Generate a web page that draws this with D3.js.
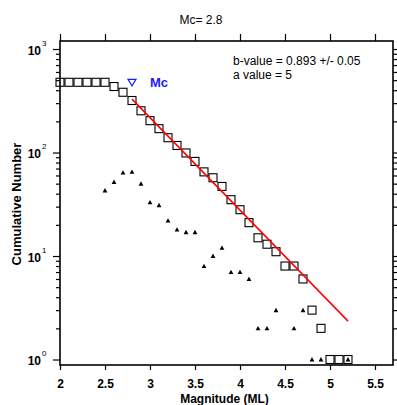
<!DOCTYPE html>
<html>
<head>
<meta charset="utf-8">
<script src="https://cdn.jsdelivr.net/npm/d3@7"></script>
<style>
  body { margin: 0; background: #fff; }
  svg { display: block; font-family: "Liberation Sans", Arial, sans-serif; }
</style>
</head>
<body>
<div id="chart"></div>
<script>
// magnitude bins (ML)
var magnitudes = [2.0, 2.1, 2.2, 2.3, 2.4, 2.5, 2.6, 2.7, 2.8, 2.9, 3.0, 3.1, 3.2, 3.3, 3.4,
                  3.5, 3.6, 3.7, 3.8, 3.9, 4.0, 4.1, 4.2, 4.3, 4.4, 4.5, 4.6, 4.7, 4.8, 4.9,
                  5.0, 5.1, 5.2];
// cumulative number of events (squares)
var cumulative = [477, 477, 477, 477, 477, 477, 434, 382, 318, 253, 203, 170, 139, 117, 99,
                  82, 65, 57, 47, 35, 28, 21, 15, 13, 11, 8, 8, 6, 3, 2,
                  1, 1, 1];
// non-cumulative number per bin (triangles), 0 = not plotted
var perBin = [0, 0, 0, 0, 0, 43, 52, 64, 65, 50, 33, 31, 22, 18, 17,
              17, 8, 10, 12, 7, 7, 6, 2, 2, 3, 0, 2, 3, 1, 1,
              0, 0, 1];
// fitted Gutenberg-Richter line, end points [magnitude, N]
var fitLine = [[2.8, 328], [5.2, 2.35]];
var mc = 2.8;
var mcLevel = 477;
var xTicks = [2, 2.5, 3, 3.5, 4, 4.5, 5, 5.5];
var yMajor = [1, 10, 100, 1000];
var yMinor = [2, 3, 4, 5, 6, 7, 8, 9, 20, 30, 40, 50, 60, 70, 80, 90, 200, 300, 400, 500, 600, 700, 800, 900];
var titleText = "Mc= 2.8";
var statLines = ["b-value = 0.893 +/- 0.05", "a value = 5"];

var W = 397, H = 405;
var margin = { top: 41, right: 4, bottom: 40, left: 60 };
var svg = d3.select('#chart').append('svg').attr('width', W).attr('height', H);

var x = d3.scaleLinear().domain([2, 5.7]).range([margin.left, W - margin.right]);
var y = d3.scaleLog().domain([0.885, 1195]).range([H - margin.bottom, margin.top]);
var x0 = x.range()[0], x1 = x.range()[1], y0 = y.range()[0], y1 = y.range()[1];

// ticks on all four sides, pointing outward
function styleAxis(g) {
    g.select('.domain').remove();
    g.selectAll('line').attr('stroke', '#000').attr('stroke-width', 1.2);
}
svg.append('g').attr('transform', 'translate(0,' + y0 + ')')
    .call(d3.axisBottom(x).tickValues(xTicks).tickSize(5).tickPadding(9).tickFormat(function (d) { return d; }))
    .call(styleAxis)
    .selectAll('text').attr('font-size', '12px').attr('font-weight', 'bold').attr('fill', '#000')
    .attr('font-family', '"Liberation Sans", Arial, sans-serif');
svg.append('g').attr('transform', 'translate(0,' + y1 + ')')
    .call(d3.axisTop(x).tickValues(xTicks).tickSize(7).tickFormat(''))
    .call(styleAxis);

svg.append('g').attr('transform', 'translate(' + x0 + ',0)')
    .call(d3.axisLeft(y).tickValues(yMajor).tickSize(7).tickFormat(''))
    .call(styleAxis);
svg.append('g').attr('transform', 'translate(' + x0 + ',0)')
    .call(d3.axisLeft(y).tickValues(yMinor).tickSize(4).tickFormat(''))
    .call(styleAxis);
svg.append('g').attr('transform', 'translate(' + x1 + ',0)')
    .call(d3.axisRight(y).tickValues(yMajor).tickSize(7).tickFormat(''))
    .call(styleAxis);
svg.append('g').attr('transform', 'translate(' + x1 + ',0)')
    .call(d3.axisRight(y).tickValues(yMinor).tickSize(4).tickFormat(''))
    .call(styleAxis);

// y labels as 10 with superscript exponent
var yl = svg.append('g').selectAll('text').data(yMajor).enter().append('text')
    .attr('x', x0 - 19).attr('y', function (d) { return y(d) + 5.5; })
    .attr('text-anchor', 'end').attr('font-size', '12px').attr('font-weight', 'bold');
yl.append('tspan').text('10');
yl.append('tspan').attr('x', x0 - 18).attr('dy', -9).attr('font-size', '8px').attr('font-weight', 'normal')
    .attr('text-anchor', 'start')
    .text(function (d) { return Math.round(Math.log10(d)); });

// plot frame
svg.append('rect').attr('x', x0).attr('y', y1).attr('width', x1 - x0).attr('height', y0 - y1)
    .attr('fill', 'none').attr('stroke', '#000').attr('stroke-width', 1.6);

var pts = magnitudes.map(function (m, i) { return { m: m, c: cumulative[i], n: perBin[i] }; });

// non-cumulative triangles
svg.append('g').selectAll('path').data(pts.filter(function (d) { return d.n > 0; })).enter().append('path')
    .attr('d', 'M0,-2.4L2.4,2L-2.4,2Z')
    .attr('transform', function (d) { return 'translate(' + x(d.m) + ',' + y(d.n) + ')'; })
    .attr('fill', '#000');

// cumulative squares
svg.append('g').selectAll('rect').data(pts).enter().append('rect')
    .attr('x', function (d) { return x(d.m) - 4; })
    .attr('y', function (d) { return y(d.c) - 4; })
    .attr('width', 8).attr('height', 8)
    .attr('fill', 'none').attr('stroke', '#000').attr('stroke-width', 1.1);

// fitted line
svg.append('path').datum(fitLine)
    .attr('d', d3.line().x(function (d) { return x(d[0]); }).y(function (d) { return y(d[1]); }))
    .attr('fill', 'none').attr('stroke', '#f00').attr('stroke-width', 1.5);

// Mc marker
svg.append('path').attr('d', 'M-4,-3L4,-3L0,3.5Z')
    .attr('transform', 'translate(' + x(mc) + ',' + y(mcLevel) + ')')
    .attr('fill', 'none').attr('stroke', '#1a1aff').attr('stroke-width', 1.2);
svg.append('text').attr('x', x(mc) + 18).attr('y', y(mcLevel) + 5)
    .attr('font-size', '13px').attr('font-weight', 'bold').attr('fill', '#1a1aff').text('Mc');

// title and statistics
svg.append('text').attr('x', 201).attr('y', 24).attr('text-anchor', 'middle')
    .attr('font-size', '12px').text(titleText);
svg.append('g').selectAll('text').data(statLines).enter().append('text')
    .attr('x', 233).attr('y', function (d, i) { return 65 + i * 14; })
    .attr('font-size', '12px').text(function (d) { return d; });

// axis titles
svg.append('text').attr('x', (x0 + x1) / 2 - 2).attr('y', 403).attr('text-anchor', 'middle')
    .attr('font-size', '12px').attr('font-weight', 'bold').text('Magnitude (ML)');
svg.append('text').attr('transform', 'translate(21,' + ((y0 + y1) / 2 + 1) + ') rotate(-90)')
    .attr('text-anchor', 'middle').attr('font-size', '13px').attr('font-weight', 'bold').text('Cumulative Number');
</script>
</body>
</html>
